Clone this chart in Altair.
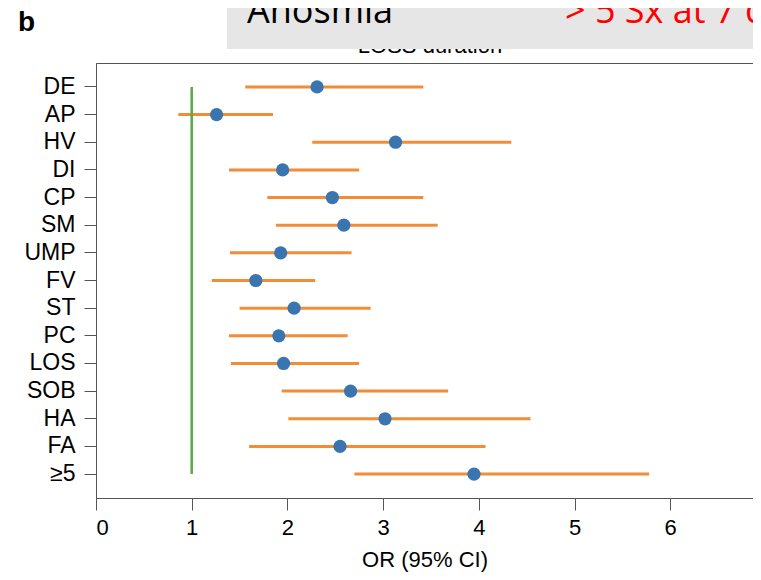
import altair as alt
import pandas as pd

cats = ["DE", "AP", "HV", "DI", "CP", "SM", "UMP", "FV", "ST", "PC", "LOS", "SOB", "HA", "FA", "≥5"]
or_vals = [2.31, 1.26, 3.13, 1.95, 2.47, 2.59, 1.93, 1.67, 2.07, 1.91, 1.96, 2.66, 3.02, 2.55, 3.95]
ci_low = [1.56, 0.86, 2.26, 1.39, 1.79, 1.88, 1.40, 1.21, 1.50, 1.39, 1.41, 1.94, 2.01, 1.60, 2.70]
ci_high = [3.42, 1.85, 4.34, 2.75, 3.42, 3.57, 2.67, 2.29, 2.87, 2.63, 2.75, 3.68, 4.54, 4.07, 5.78]
x_ticks = [0, 1, 2, 3, 4, 5, 6]
ref_value = 1

df = pd.DataFrame({"cat": cats, "or": or_vals, "lo": ci_low, "hi": ci_high})
ref_df = pd.DataFrame({"x": [ref_value], "y1": [cats[0]], "y2": [cats[-1]]})
ann_df = pd.DataFrame({"a": [0]})

FONT = "Liberation Sans"
W, H = 657, 435
XMAX = W / 95.7

xscale = alt.Scale(domain=[0, XMAX], nice=False, zero=False)
yscale = alt.Scale(domain=cats, padding=0.73)

x_enc = alt.X(
    "lo:Q", scale=xscale,
    axis=alt.Axis(values=x_ticks, title="OR (95% CI)", format="d", grid=False,
                  tickSize=12, labelPadding=7, titlePadding=11),
)
y_enc = alt.Y(
    "cat:N", scale=yscale, sort=cats,
    axis=alt.Axis(title=None, tickSize=12, labelPadding=9, grid=False, labelFontSize=23),
)

ci = alt.Chart(df).mark_rule(color="#f28c36", strokeWidth=3).encode(
    x=x_enc, x2="hi:Q", y=y_enc
)
ref = alt.Chart(ref_df).mark_rule(color="#5aa845", strokeWidth=2.5).encode(
    x=alt.X("x:Q", scale=xscale), y=alt.Y("y1:N", scale=yscale, sort=cats), y2="y2:N"
)
pts = alt.Chart(df).mark_point(filled=True, size=175, opacity=1, color="#3a75b0").encode(
    x=alt.X("or:Q", scale=xscale), y=alt.Y("cat:N", scale=yscale, sort=cats)
)

title_txt = alt.Chart(ann_df).mark_text(
    text="LOSS duration", font=FONT, fontSize=22, align="center", baseline="alphabetic", color="black"
).encode(x=alt.value(334), y=alt.value(-10))

box = alt.Chart(ann_df).mark_rect(color="#e6e6e6").encode(
    x=alt.value(131), x2=alt.value(W + 10), y=alt.value(-56), y2=alt.value(-14)
)
anosmia = alt.Chart(ann_df).mark_text(
    text="Anosmia", font="Open Sans", fontSize=36, align="left", baseline="alphabetic", color="black"
).encode(x=alt.value(151), y=alt.value(-40))
red_txt = alt.Chart(ann_df).mark_text(
    text="> 5 Sx at 7 days", font="Open Sans", fontSize=36, align="left", baseline="alphabetic", color="#ff0000"
).encode(x=alt.value(469), y=alt.value(-40))
panel = alt.Chart(ann_df).mark_text(
    text="b", font=FONT, fontSize=28, fontWeight="bold", align="left", baseline="alphabetic", color="black"
).encode(x=alt.value(-78), y=alt.value(-32))

chart = alt.layer(ci, ref, pts, title_txt, box, anosmia, red_txt, panel).properties(
    width=W, height=H,
    autosize=alt.AutoSizeParams(type="none"),
    padding={"left": 88, "top": 55, "right": 0, "bottom": 74},
).configure_view(
    stroke="#555555", strokeWidth=1
).configure_axis(
    labelFont=FONT, titleFont=FONT, labelFontSize=22, titleFontSize=22,
    titleFontWeight="normal", labelColor="black", titleColor="black",
    domainColor="#555555", tickColor="#555555", domainWidth=1, tickWidth=1,
)

chart.save("out.html", embed_options={"renderer": "svg", "actions": False})
